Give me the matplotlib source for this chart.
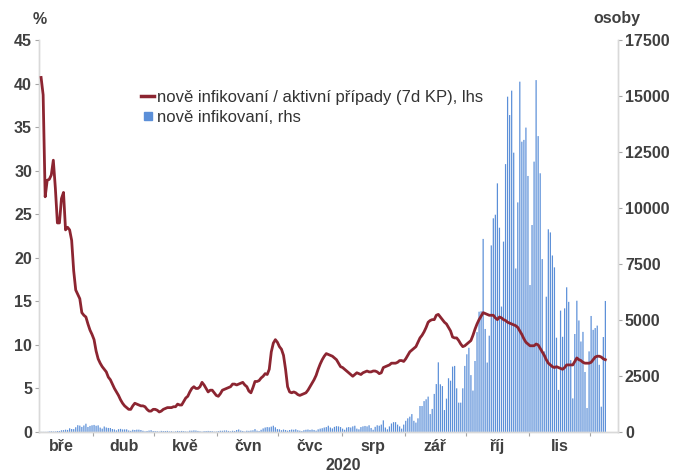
import matplotlib
matplotlib.use('Agg')
import matplotlib.pyplot as plt
import matplotlib.dates as mdates
from matplotlib.lines import Line2D
import numpy as np
import pandas as pd

plt.rcParams['font.family'] = ['Liberation Sans', 'DejaVu Sans']

start_date = '2020-03-06'

# daily new infections (osoby), rhs
cases_mar = [7, 7, 6, 8, 23, 31, 22, 24, 43, 45, 77, 84, 103, 92, 166, 133, 128, 212, 304, 286,
             227, 291, 370, 224, 272, 300]
cases_apr = [316, 279, 297, 197, 150, 246, 200, 181, 179, 133, 115, 74, 126, 140, 115, 116, 119, 69,
             52, 100, 89, 105, 104, 89, 56, 29, 45, 64, 80, 45]
cases_may = [39, 34, 19, 50, 41, 43, 49, 27, 33, 14, 28, 48, 36, 48, 38, 25, 19, 60, 58, 71, 65, 47,
             31, 16, 37, 43, 48, 43, 37, 18, 22]
cases_jun = [39, 56, 55, 67, 70, 48, 30, 56, 46, 89, 113, 65, 46, 20, 58, 51, 65, 75, 130, 60, 44,
             100, 160, 200, 220, 210, 240, 280, 210, 130]
cases_jul = [120, 80, 110, 90, 60, 90, 110, 100, 120, 80, 60, 40, 80, 100, 110, 90, 110, 90, 60,
             120, 150, 170, 200, 220, 280, 200, 160, 230, 260, 250, 220]
cases_aug = [150, 100, 200, 220, 200, 250, 280, 150, 120, 220, 250, 270, 250, 300, 180, 100, 230,
             300, 280, 330, 520, 200, 120, 250, 380, 440, 440, 330, 250, 150, 330]
cases_sep = [500, 610, 685, 800, 500, 420, 610, 1160, 1160, 1380, 1460, 1580, 800, 1030, 1700, 2140,
             3110, 2130, 2050, 980, 1490, 2400, 2290, 2920, 2950, 1950, 1310, 1310, 1950, 2950]
cases_oct = [3470, 3760, 2540, 1850, 3170, 4460, 5370, 5390, 8620, 4600, 3100, 4300, 8330, 9540,
             9700, 11100, 9120, 5600, 8500, 11960, 14970, 14150, 15240, 12470, 7300, 10250, 15640,
             12960, 13040, 13590, 11430]
cases_nov = [6560, 9240, 12070, 15710, 13210, 11550, 7720, 3600, 6040, 9050, 8910, 7880, 7350, 4210,
             1880, 5420, 4250, 5520, 6460, 5810, 3210, 1500, 4375, 5860, 4980, 4040, 4470, 2680,
             1070, 3600]
cases_dec = [5180, 4560, 4640, 4750, 3000, 1130, 4240, 5850]

# new infections / active cases (7d KP), %, lhs
ratio_mar = [40.7, 38.7, 27.0, 28.9, 29.0, 29.5, 31.2, 28.0, 24.0, 24.0, 26.8, 27.5, 23.2, 23.5,
             23.2, 22.0, 18.5, 16.3, 15.8, 15.3, 13.7, 13.4, 13.2, 12.4, 11.7, 11.2]
ratio_apr = [10.6, 9.3, 8.4, 7.9, 7.5, 7.2, 6.9, 6.3, 6.0, 5.5, 5.0, 4.6, 4.2, 3.7, 3.3, 3.0, 2.8,
             2.6, 2.6, 3.0, 3.3, 3.2, 3.1, 3.0, 3.0, 2.9, 2.6, 2.4, 2.4, 2.6]
ratio_may = [2.6, 2.5, 2.3, 2.4, 2.6, 2.7, 2.8, 2.8, 2.8, 2.9, 2.9, 3.2, 3.1, 3.1, 3.5, 3.9, 4.1,
             4.6, 5.0, 5.2, 5.0, 5.0, 5.2, 5.7, 5.4, 5.0, 4.6, 4.8, 4.8, 4.5, 4.2]
ratio_jun = [4.1, 4.4, 4.8, 4.9, 5.0, 5.1, 5.2, 5.5, 5.5, 5.4, 5.5, 5.6, 5.7, 5.4, 5.2, 4.7, 4.5,
             5.1, 5.8, 5.8, 5.9, 6.2, 6.4, 6.7, 6.6, 7.2, 9.2, 10.2, 10.6, 10.3]
ratio_jul = [9.8, 9.5, 8.8, 7.2, 5.2, 4.6, 4.5, 4.6, 4.5, 4.3, 4.2, 4.3, 4.4, 4.5, 4.8, 5.2, 5.6,
             6.0, 6.5, 7.2, 7.8, 8.3, 8.7, 9.0, 8.9, 8.8, 8.7, 8.5, 8.3, 7.9, 7.5]
ratio_aug = [7.4, 7.2, 7.0, 6.8, 6.6, 6.4, 6.6, 6.8, 6.7, 6.6, 6.8, 6.9, 7.0, 6.9, 6.9, 7.0, 7.0,
             6.9, 6.7, 6.8, 7.4, 7.5, 7.6, 7.7, 7.9, 7.9, 7.9, 8.0, 8.2, 8.2, 8.1]
ratio_sep = [8.4, 8.8, 9.2, 9.4, 9.6, 9.8, 10.3, 10.8, 11.1, 11.5, 12.0, 12.6, 12.8, 12.9, 12.9,
             13.4, 13.5, 13.2, 12.9, 12.6, 12.4, 12.0, 11.6, 10.9, 10.8, 10.8, 10.5, 10.1, 9.8, 9.9]
ratio_oct = [10.1, 10.3, 10.5, 11.1, 11.8, 12.4, 12.9, 13.3, 13.7, 13.6, 13.5, 13.4, 13.4, 13.4,
             13.1, 12.9, 13.2, 13.1, 12.9, 12.8, 12.6, 12.5, 12.4, 12.3, 12.2, 12.0, 11.6, 11.2,
             10.7, 10.3, 10.1]
ratio_nov = [9.9, 9.9, 9.9, 10.1, 10.0, 9.6, 9.2, 8.8, 8.3, 7.9, 7.7, 7.5, 7.4, 7.5, 7.4, 7.3, 7.2,
             7.4, 7.7, 7.7, 7.7, 7.7, 8.1, 8.5, 8.3, 8.2, 8.0, 7.9, 7.9, 7.9]
ratio_dec = [8.0, 8.3, 8.6, 8.7, 8.7, 8.6, 8.4, 8.3]

month_labels = ['bře', 'dub', 'kvě', 'čvn', 'čvc', 'srp', 'zář', 'říj', 'lis']
left_ticks = [0, 5, 10, 15, 20, 25, 30, 35, 40, 45]
right_ticks = [0, 2500, 5000, 7500, 10000, 12500, 15000, 17500]
legend_labels = ['nově infikovaní / aktivní případy (7d KP), lhs', 'nově infikovaní, rhs']

cases = np.array(cases_mar + cases_apr + cases_may + cases_jun + cases_jul + cases_aug +
                 cases_sep + cases_oct + cases_nov + cases_dec, dtype=float)
ratio = np.array(ratio_mar + ratio_apr + ratio_may + ratio_jun + ratio_jul + ratio_aug +
                 ratio_sep + ratio_oct + ratio_nov + ratio_dec, dtype=float)
dates = pd.date_range(start_date, periods=len(cases), freq='D')
x = mdates.date2num(dates) + 0.5

txt = '#404040'
spine_c = '#d9d9d9'
bar_c = '#5b8fd8'
line_c = '#8c2531'

fig = plt.figure(figsize=(6.77, 4.74), dpi=100)
ax = fig.add_axes([39 / 677, 1 - 432 / 474, (618 - 39) / 677, (432 - 40) / 474])
ax.bar(x, cases, width=0.6, color=bar_c, linewidth=0, zorder=2, snap=False)
ax.set_ylim(0, 17500)

ax2 = ax.twinx()
ax2.plot(x, ratio, color=line_c, linewidth=2.0, solid_joinstyle='round', zorder=3)
ax2.set_ylim(0, 45)
ax2.yaxis.tick_left()
ax2.set_yticks(left_ticks)
ax2.set_yticklabels([str(v) for v in left_ticks])

ax.yaxis.tick_right()
ax.set_yticks(right_ticks)
ax.set_yticklabels([str(v) for v in right_ticks])

x0 = mdates.date2num(pd.Timestamp('2020-03-05')) + 0.47
x1 = mdates.date2num(pd.Timestamp('2020-12-14')) + 0.7
ax.set_xlim(x0, x1)

month_starts = pd.date_range('2020-04-01', '2020-12-01', freq='MS')
ax.set_xticks(mdates.date2num(month_starts))
ax.set_xticklabels([])
mid = [mdates.date2num(pd.Timestamp(f'2020-{m:02d}-01')) +
       (pd.Timestamp(f'2020-{m:02d}-01').days_in_month) / 2 for m in range(3, 12)]
ax.set_xticks(mid, minor=True)
ax.set_xticklabels(month_labels, minor=True)
ax.tick_params(axis='x', which='minor', length=0, pad=5, labelsize=11.5, labelcolor=txt)
ax.tick_params(axis='x', which='major', length=3, color='#a6a6a6', direction='out')
for lab in ax.get_xticklabels(minor=True):
    lab.set_fontweight('bold')

for a in (ax, ax2):
    a.tick_params(axis='y', length=3, color='#a6a6a6', width=0.8, pad=2, labelsize=11.5,
                  labelcolor=txt)
    for lab in a.get_yticklabels():
        lab.set_fontweight('bold')
    a.spines['top'].set_visible(False)
    for s in ('left', 'right', 'bottom'):
        a.spines[s].set_color(spine_c)
        a.spines[s].set_linewidth(1.0)

fig.text(40 / 677, 1 - 19 / 474, '%', ha='center', va='center', fontsize=11.5,
         fontweight='bold', color=txt)
fig.text(617 / 677, 1 - 19 / 474, 'osoby', ha='center', va='center', fontsize=11.5,
         fontweight='bold', color=txt)
fig.text(343 / 677, 1 - 466 / 474, '2020', ha='center', va='center', fontsize=11.5,
         fontweight='bold', color=txt)

handles = [Line2D([], [], color=line_c, linewidth=2.5),
           Line2D([], [], color=bar_c, marker='s', linestyle='none', markersize=5.5)]
ax2.legend(handles, legend_labels, loc='upper left',
           bbox_to_anchor=(141 / 677, 1 - 90 / 474), bbox_transform=fig.transFigure,
           frameon=False, fontsize=12, handlelength=0.8, handletextpad=0.15,
           labelspacing=0.3, labelcolor='#333333', borderaxespad=0, borderpad=0)

fig.savefig('out.png', dpi=100)
